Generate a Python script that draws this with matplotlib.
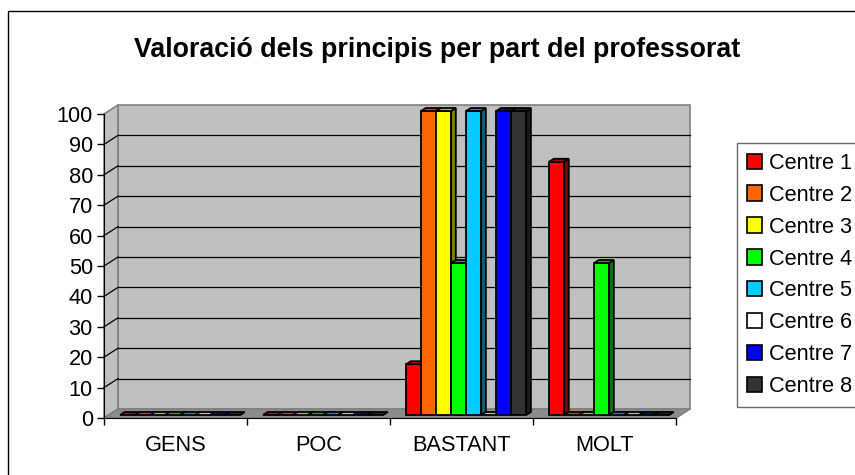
import matplotlib.pyplot as plt
from matplotlib.patches import Polygon, Patch, Rectangle
import numpy as np

plt.rcParams['font.family'] = ['Liberation Sans', 'DejaVu Sans']

categories = ['GENS', 'POC', 'BASTANT', 'MOLT']
series_names = ['Centre 1', 'Centre 2', 'Centre 3', 'Centre 4',
                'Centre 5', 'Centre 6', 'Centre 7', 'Centre 8']
values = [
    [0, 0, 16.7, 83.3],    # Centre 1
    [0, 0, 100, 0],        # Centre 2
    [0, 0, 100, 0],        # Centre 3
    [0, 0, 50, 50],        # Centre 4
    [0, 0, 100, 0],        # Centre 5
    [0, 0, 0, 0],          # Centre 6
    [0, 0, 100, 0],        # Centre 7
    [0, 0, 100, 0],        # Centre 8
]
colors = ['#FF0000', '#FF6600', '#FFFF00', '#00FF00',
          '#00CCFF', '#FFFFFF', '#0000FF', '#333333']
yticks = list(range(0, 101, 10))
title = 'Valoració dels principis per part del professorat'

W, H = 855, 475
fig = plt.figure(figsize=(W / 100, H / 100), dpi=100)

# outer chart border (right/bottom run off the picture)
fig.patches.append(Rectangle((8 / W, -0.1), 1.2, 1 - 11 / H + 0.1,
                             transform=fig.transFigure, fill=False,
                             edgecolor='black', lw=1))

# front plane of the 3d box, in pixels
x0, x1, ytop, ybot = 104, 676, 114, 418
ax = fig.add_axes([x0 / W, 1 - ybot / H, (x1 - x0) / W, (ybot - ytop) / H])
ax.set_xlim(0, len(categories))
ax.set_ylim(0, 100)

# depth of the box in data units
dx = 14 / ((x1 - x0) / len(categories))
dy = 9 / ((ybot - ytop) / 100)
n = len(categories)


def shade(c, f):
    c = np.array(plt.matplotlib.colors.to_rgb(c))
    return tuple(c * f)


def poly(pts, fc, ec, lw=1.0, z=1):
    ax.add_patch(Polygon(pts, closed=True, facecolor=fc, edgecolor=ec,
                         lw=lw, clip_on=False, zorder=z))


# walls and floor
poly([(dx, dy), (n + dx, dy), (n + dx, 100 + dy), (dx, 100 + dy)], '#C0C0C0', '#808080', 1.2)
poly([(0, 0), (dx, dy), (dx, 100 + dy), (0, 100)], '#C0C0C0', '#808080', 1.2)
poly([(0, 0), (n, 0), (n + dx, dy), (dx, dy)], '#8C8C8C', '#808080', 1.2)
for v in yticks[1:-1]:
    ax.plot([dx, n + dx], [v + dy, v + dy], color='black', lw=0.9, zorder=1.5, clip_on=False)
    ax.plot([0, dx], [v, v + dy], color='black', lw=0.9, zorder=1.5, clip_on=False)

# bars
bw = 0.105
pad = (1 - bw * len(series_names)) / 2
fx, fy = dx / 3, dy / 3
for i in range(n):
    for k, vals in enumerate(values):
        v = vals[i]
        c = colors[k]
        left = i + pad + k * bw + fx
        right = left + bw
        bot, top = fy, v + fy
        z = 3 + i * 0.1 + k * 0.01
        if v > 0:
            poly([(left, bot), (right, bot), (right, top), (left, top)], c, 'black', 1.3, z)
            poly([(right, bot), (right + fx, bot + fy), (right + fx, top + fy), (right, top)],
                 shade(c, 0.5), 'black', 1.3, z)
        poly([(left, top), (right, top), (right + fx, top + fy), (left + fx, top + fy)],
             shade(c, 0.75), 'black', 1.3, z)

# axes
for s in ['top', 'right']:
    ax.spines[s].set_visible(False)
ax.spines['left'].set_zorder(5)
ax.spines['bottom'].set_zorder(5)
ax.set_yticks(yticks)
ax.set_yticklabels([str(v) for v in yticks], fontsize=15.7)
ax.set_xticks(np.arange(n + 1))
ax.set_xticklabels([])
ax.set_xticks(np.arange(n) + 0.5, minor=True)
ax.set_xticklabels(categories, minor=True, fontsize=15.7)
ax.tick_params(axis='x', which='minor', length=0, pad=12)
ax.tick_params(axis='x', which='major', length=5, width=1, direction='out')
ax.tick_params(axis='y', length=5, width=1, direction='out', pad=3)
ax.patch.set_visible(False)

fig.text(437 / W, 1 - 50 / H, title, ha='center', va='center',
         fontsize=19.3, fontweight='bold')

handles = [Patch(facecolor=c, edgecolor='black', lw=1.2) for c in colors]
leg = fig.legend(handles, series_names, loc='upper left',
                 bbox_to_anchor=(737 / W, 1 - 143 / H), fontsize=15.7,
                 frameon=True, fancybox=False, handlelength=0.7, handleheight=0.7,
                 handletextpad=0.3, labelspacing=0.5, borderpad=0.45,
                 borderaxespad=0)
leg.get_frame().set_edgecolor('#444444')
leg.get_frame().set_linewidth(1)

fig.savefig('out.png', dpi=100)
